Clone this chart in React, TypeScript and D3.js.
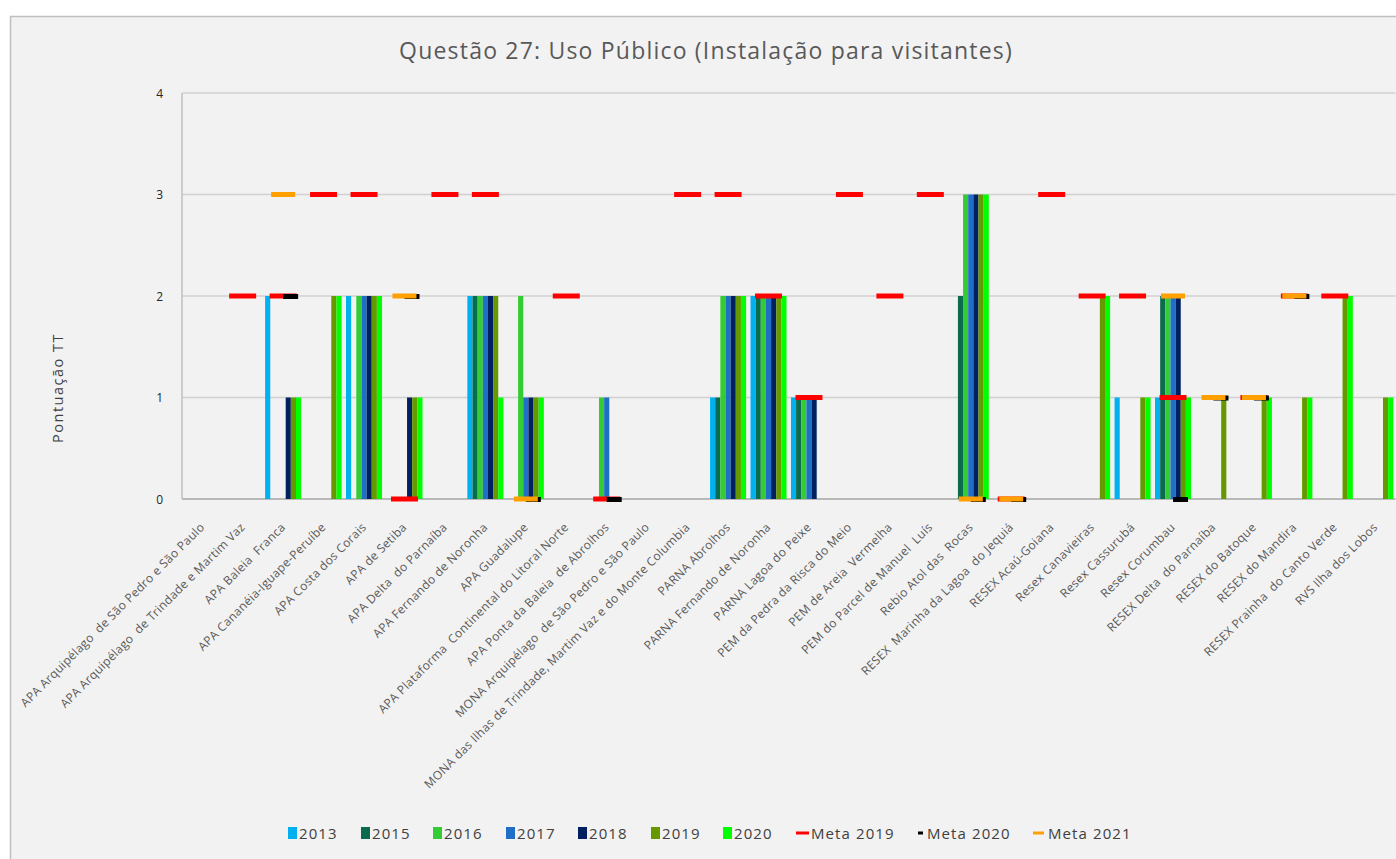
import { scaleBand, scaleLinear } from "d3"

// categorias (eixo x)
const categories = [
  "APA Arquipélago  de São Pedro e São Paulo",
  "APA Arquipélago  de Trindade e Martim Vaz",
  "APA Baleia  Franca",
  "APA Cananéia-Iguape-Peruíbe",
  "APA Costa dos Corais",
  "APA de Setiba",
  "APA Delta  do Parnaíba",
  "APA Fernando de Noronha",
  "APA Guadalupe",
  "APA Plataforma  Continental do Litoral Norte",
  "APA Ponta da Baleia  de Abrolhos",
  "MONA Arquipélago  de São Pedro e São Paulo",
  "MONA das Ilhas de Trindade, Martim Vaz e do Monte Columbia",
  "PARNA Abrolhos",
  "PARNA Fernando de Noronha",
  "PARNA Lagoa do Peixe",
  "PEM da Pedra da Risca do Meio",
  "PEM de Areia  Vermelha",
  "PEM do Parcel de Manuel  Luís",
  "Rebio Atol das  Rocas",
  "RESEX  Marinha da Lagoa  do Jequiá",
  "RESEX Acaú-Goiana",
  "Resex Canavieiras",
  "Resex Cassurubá",
  "Resex Corumbau",
  "RESEX Delta  do Parnaíba",
  "RESEX do Batoque",
  "RESEX do Mandira",
  "RESEX Prainha  do Canto Verde",
  "RVS Ilha dos Lobos",
]

const years = ["2013", "2015", "2016", "2017", "2018", "2019", "2020"]
const yearColors = ["#00b0f0", "#0b6b4e", "#33cc33", "#1f6fc6", "#002060", "#669900", "#00ff00"]

const v2013 = [0, 0, 2, 0, 2, 0, 0, 2, 0, 0, 0, 0, 0, 1, 2, 1, 0, 0, 0, 0, 0, 0, 0, 1, 1, 0, 0, 0, 0, 0]
const v2015 = [0, 0, 0, 0, 0, 0, 0, 2, 0, 0, 0, 0, 0, 1, 2, 1, 0, 0, 0, 2, 0, 0, 0, 0, 2, 0, 0, 0, 0, 0]
const v2016 = [0, 0, 0, 0, 2, 0, 0, 2, 2, 0, 1, 0, 0, 2, 2, 1, 0, 0, 0, 3, 0, 0, 0, 0, 2, 0, 0, 0, 0, 0]
const v2017 = [0, 0, 0, 0, 2, 0, 0, 2, 1, 0, 1, 0, 0, 2, 2, 1, 0, 0, 0, 3, 0, 0, 0, 0, 2, 0, 0, 0, 0, 0]
const v2018 = [0, 0, 1, 0, 2, 1, 0, 2, 1, 0, 0, 0, 0, 2, 2, 1, 0, 0, 0, 3, 0, 0, 0, 0, 2, 0, 0, 0, 0, 0]
const v2019 = [0, 0, 1, 2, 2, 1, 0, 2, 1, 0, 0, 0, 0, 2, 2, 0, 0, 0, 0, 3, 0, 0, 2, 1, 1, 1, 1, 1, 2, 1]
const v2020 = [0, 0, 1, 2, 2, 1, 0, 1, 1, 0, 0, 0, 0, 2, 2, 0, 0, 0, 0, 3, 0, 0, 2, 1, 1, 0, 1, 1, 2, 1]

// metas (null = sem marcador)
const meta2019 = [null, 2, 2, 3, 3, 0, 3, 3, null, 2, 0, null, 3, 3, 2, 1, 3, 2, 3, null, 0, 3, 2, 2, 1, null, 1, 2, 2, null]
const meta2020 = [null, null, 2, null, null, 2, null, null, 0, null, 0, null, null, null, null, null, null, null, null, 0, 0, null, null, null, 0, 1, 1, 2, null, null]
const meta2021 = [null, null, 3, null, null, 2, null, null, 0, null, null, null, null, null, null, null, null, null, null, 0, 0, null, null, null, 2, 1, 1, 2, null, null]

const yTicks = [0, 1, 2, 3, 4]

const barSeries = [v2013, v2015, v2016, v2017, v2018, v2019, v2020]
const metaSeries = [
  { name: "Meta 2019", values: meta2019, color: "#ff0000", x0: -13.5, x1: 13.5, dy: 0 },
  { name: "Meta 2020", values: meta2020, color: "#000000", x0: 0, x1: 15, dy: 0.5 },
  { name: "Meta 2021", values: meta2021, color: "#ffa000", x0: -12, x1: 12, dy: 0 },
]

const W = 1396
const H = 859
const font = "'Open Sans', sans-serif"

export default function App() {
  const plot = { left: 182, right: 1395.5, top: 93, bottom: 499 }

  const x = scaleBand<string>().domain(categories).range([plot.left, plot.right]).padding(0)
  const sub = scaleBand<string>().domain(years).range([0, x.bandwidth()]).paddingInner(0).paddingOuter(0.43)
  const y = scaleLinear().domain([0, 4]).range([plot.bottom, plot.top])

  const legendItems = [
    ...years.map((yr, i) => ({ label: yr, color: yearColors[i], kind: "box" })),
    ...metaSeries.map((m) => ({ label: m.name, color: m.color, kind: m.name })),
  ]
  const legendX = [288, 361, 433, 506, 578, 651, 723, 796, 918, 1033]

  return (
    <svg width={W} height={H} style={{ position: "fixed", left: 0, top: 0, background: "#ffffff" }}>
      <rect x={10.5} y={16.5} width={W + 20} height={H + 20} fill="#f2f2f2" stroke="#bfbfbf" strokeWidth={1.5} />

      <text x={706} y={59} textAnchor="middle" fontFamily={font} fontSize={23} letterSpacing={1.2} fill="#595959">
        Questão 27: Uso Público (Instalação para visitantes)
      </text>

      {/* grade */}
      {yTicks.map((t) => (
        <g key={t}>
          <line x1={plot.left} x2={plot.right} y1={y(t)} y2={y(t)} stroke={t === 0 ? "#a6a6a6" : "#d0d0d0"} strokeWidth={1.5} />
          <text x={163} y={y(t) + 4.5} textAnchor="end" fontFamily={font} fontSize={12} fill="#262626">
            {t}
          </text>
        </g>
      ))}
      <line x1={plot.left} x2={plot.left} y1={plot.top} y2={plot.bottom} stroke="#bfbfbf" strokeWidth={1.5} />

      <text transform={`translate(63,388) rotate(-90)`} textAnchor="middle" fontFamily={font} fontSize={14.5} letterSpacing={1.5} fill="#404040">
        Pontuação TT
      </text>

      {/* barras */}
      {barSeries.map((vals, si) =>
        vals.map((v, ci) =>
          v > 0 ? (
            <rect
              key={`${si}-${ci}`}
              x={x(categories[ci])! + sub(years[si])!}
              y={y(v)}
              width={sub.bandwidth()}
              height={y(0) - y(v)}
              fill={yearColors[si]}
            />
          ) : null
        )
      )}

      {/* metas */}
      {metaSeries.map((m) =>
        m.values.map((v, ci) => {
          if (v === null) return null
          const c = x(categories[ci])! + x.bandwidth() / 2
          return <rect key={`${m.name}-${ci}`} x={c + m.x0} y={y(v) - 2.5 + m.dy} width={m.x1 - m.x0} height={5} fill={m.color} />
        })
      )}

      {/* rótulos das categorias */}
      {categories.map((cat) => {
        const c = x(cat)! + x.bandwidth() / 2
        return (
          <text
            key={cat}
            transform={`translate(${c + 3},${528}) rotate(-45)`}
            textAnchor="end"
            fontFamily={font}
            fontSize={12}
            letterSpacing={0.3}
            fill="#595959"
            style={{ whiteSpace: "pre" }}
          >
            {cat}
          </text>
        )
      })}

      {/* legenda */}
      {legendItems.map((it, i) => {
        const lx = legendX[i]
        return (
          <g key={it.label} transform={`translate(${lx},833)`}>
            {it.kind === "box" && <rect x={0} y={-6} width={9} height={12} fill={it.color} />}
            {it.kind === "Meta 2019" && <rect x={0} y={-1.5} width={13} height={3} fill={it.color} />}
            {it.kind === "Meta 2020" && <rect x={0} y={-1.5} width={5} height={3} fill={it.color} />}
            {it.kind === "Meta 2021" && <rect x={0} y={-1.5} width={11} height={3} fill={it.color} />}
            <text x={it.kind === "box" ? 11 : it.kind === "Meta 2020" ? 9 : 15} y={5.5} fontFamily={font} fontSize={15} letterSpacing={1.1} fill="#404040">
              {it.label}
            </text>
          </g>
        )
      })}
    </svg>
  )
}
